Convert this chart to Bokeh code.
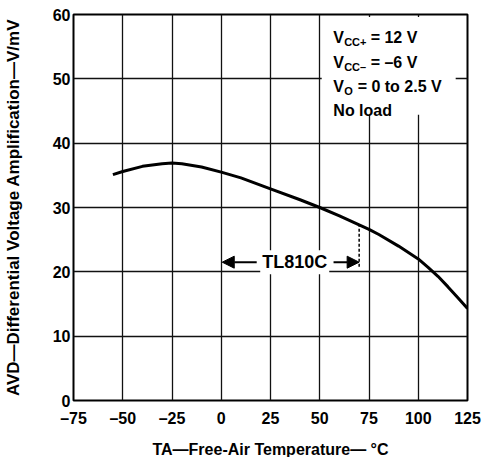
from bokeh.plotting import figure
from bokeh.models import FixedTicker, Label, Arrow, NormalHead, Range1d
from bokeh.embed import file_html
from bokeh.resources import INLINE

# ---- data ----
temp_c = [-55, -50, -40, -30, -25, -20, -10, 0, 10, 25, 40, 50, 60, 70, 75, 80, 90, 100, 105, 110, 115, 120, 125]
avd_v_per_mv = [35.1, 35.6, 36.4, 36.8, 36.9, 36.8, 36.3, 35.5, 34.6, 32.9, 31.2, 30.0, 28.7, 27.3,
                26.6, 25.8, 24.0, 22.0, 20.7, 19.3, 17.7, 16.0, 14.3]
x_ticks = [-75, -50, -25, 0, 25, 50, 75, 100, 125]
x_tick_labels = ["\u201375", "\u201350", "\u201325", "0", "25", "50", "75", "100", "125"]
y_ticks = [0, 10, 20, 30, 40, 50, 60]
y_tick_labels = ["0", "10", "20", "30", "40", "50", "60"]
x_title = "TA\u2014Free-Air Temperature\u2014 \u00b0C"
y_title = "AVD\u2014Differential Voltage Amplification\u2014V/mV"
tl810c_range = [0, 70]          # operating range of TL810C, degC
tl810c_label = "TL810C"
tl810c_level = 21.5             # height of the range arrows, V/mV
conditions = [("V", "CC+", "= 12 V"), ("V", "CC\u2013", "= \u20136 V"), ("V", "O", "= 0 to 2.5 V"), ("No load", "", "")]

FONT = "Liberation Sans"

p = figure(frame_width=394, frame_height=386,
           min_border_left=72, min_border_right=16, min_border_top=14, min_border_bottom=57,
           x_range=Range1d(-75, 125), y_range=Range1d(0, 60),
           output_backend="svg", toolbar_location=None,
           background_fill_color="white", border_fill_color="white")

p.outline_line_color = "black"
p.outline_line_width = 2

for ax, ticks, labels in ((p.xaxis[0], x_ticks, x_tick_labels), (p.yaxis[0], y_ticks, y_tick_labels)):
    ax.ticker = FixedTicker(ticks=ticks)
    ax.major_label_overrides = {t: l for t, l in zip(ticks, labels)}
    ax.axis_line_color = None
    ax.major_tick_in = 0
    ax.major_tick_out = 0
    ax.minor_tick_line_color = None
    ax.major_label_text_font = FONT
    ax.major_label_text_font_style = "bold"
    ax.major_label_text_font_size = "16px"
    ax.major_label_text_color = "black"
    ax.axis_label_text_font = FONT
    ax.axis_label_text_font_style = "bold"
    ax.axis_label_text_color = "black"
p.xaxis.major_label_standoff = 9
p.yaxis.major_label_standoff = 3
p.xaxis.axis_label = x_title
p.xaxis.axis_label_text_font_size = "16px"
p.xaxis.axis_label_standoff = 11
p.yaxis.axis_label = y_title
p.yaxis.axis_label_text_font_size = "17px"
p.yaxis.axis_label_standoff = 27

p.xgrid.ticker = FixedTicker(ticks=x_ticks)
p.ygrid.ticker = FixedTicker(ticks=y_ticks)
for g in (p.xgrid[0], p.ygrid[0]):
    g.grid_line_color = "#111111"
    g.grid_line_width = 1.3
    g.grid_line_alpha = 1.0

# white panel behind the conditions text
p.quad(left=[51], right=[119], bottom=[44.4], top=[59.6], fill_color="white", line_color=None)

# the curve
p.line(temp_c, avd_v_per_mv, line_width=3, color="black", line_join="round")

# dashed drop line at the upper end of the TL810C range
top_at_end = avd_v_per_mv[temp_c.index(tl810c_range[1])]
p.segment(x0=[tl810c_range[1]], y0=[tl810c_level - 0.7], x1=[tl810c_range[1]], y1=[top_at_end],
          line_dash="3 2", line_width=1.5, color="black")

# range arrows and label
head = dict(size=12, fill_color="black", line_color="black", line_width=1)
p.add_layout(Arrow(end=NormalHead(**head), x_start=18, y_start=tl810c_level,
                   x_end=tl810c_range[0] + 0.5, y_end=tl810c_level, line_width=2, line_color="black"))
p.add_layout(Arrow(end=NormalHead(**head), x_start=57, y_start=tl810c_level,
                   x_end=tl810c_range[1], y_end=tl810c_level, line_width=2, line_color="black"))
p.add_layout(Label(x=37.3, y=tl810c_level, text=tl810c_label, text_align="center", text_baseline="middle",
                   text_font=FONT, text_font_style="bold", text_font_size="18px", text_color="black",
                   background_fill_color="white", padding=2))

# conditions text (with subscripts)
base_y = [56.4, 52.5, 48.8, 45.1]
for (main, sub, rest), yb in zip(conditions, base_y):
    p.add_layout(Label(x=56.9, y=yb, text=main, text_baseline="alphabetic", text_font=FONT,
                       text_font_style="bold", text_font_size="16px", text_color="black"))
    if sub:
        p.add_layout(Label(x=56.9, y=yb, x_offset=10.8, y_offset=-4, text=sub, text_baseline="alphabetic",
                           text_font=FONT, text_font_style="bold", text_font_size="11px", text_color="black"))
        off = 10.8 + (26.5 if len(sub) > 1 else 13.5)
        p.add_layout(Label(x=56.9, y=yb, x_offset=off, text=rest, text_baseline="alphabetic", text_font=FONT,
                           text_font_style="bold", text_font_size="16px", text_color="black"))

open("out.html", "w").write(file_html(p, INLINE))
